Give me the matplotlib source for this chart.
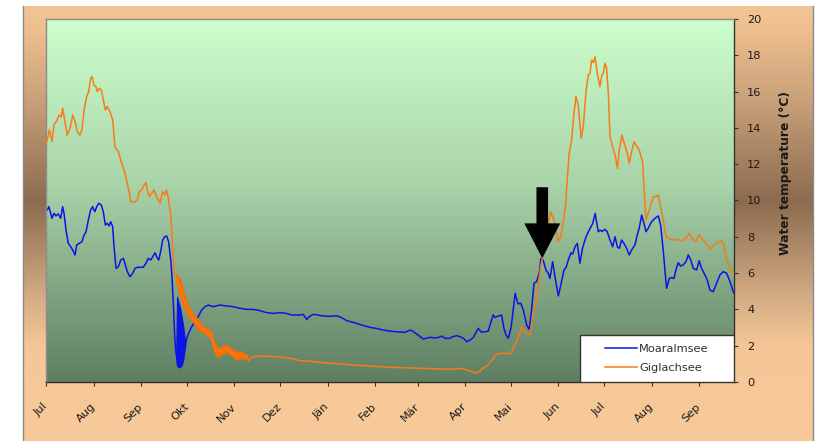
import numpy as np
import matplotlib
matplotlib.use("Agg")
import matplotlib.pyplot as plt
from matplotlib.colors import to_rgb
from matplotlib.patches import FancyArrow, Rectangle

# ---------------------------------------------------------------------------
# Data: daily water temperature (°C), day 0 = 1 July
# ---------------------------------------------------------------------------
month_labels = ["Jul", "Aug", "Sep", "Okt", "Nov", "Dez", "Jän", "Feb", "Mär",
                "Apr", "Mai", "Jun", "Jul", "Aug", "Sep"]
month_start_day = [0, 31, 62, 92, 123, 153, 184, 215, 243, 274, 304, 335, 365, 396, 427]
last_day = 449.8

moar_day = [0.0, 0.65, 1.6, 2.9, 3.7, 5.0, 6.3, 7.8, 9.4, 10.7, 11.6, 12.9, 14.4, 16.0,
            17.3, 18.8, 19.9, 21.6, 23.3, 24.7, 26.0, 27.5, 29.0, 30.3, 31.7, 33.0, 34.3,
            36.0, 37.3, 38.6, 39.9, 41.0, 42.1, 43.4, 44.3, 45.6, 47.1, 48.7, 50.4, 51.7,
            53.0, 54.7, 56.5, 58.0, 59.5, 61.3, 63.4, 65.2, 66.7, 68.3, 69.6, 71.1, 72.2,
            73.5, 74.8, 76.1, 77.4, 78.7, 80.0, 81.4, 82.2, 83.1, 84.0, 84.8, 85.3, 86.6,
            88.0, 89.5, 90.7, 91.4, 92.2, 93.5, 95.1, 97.3, 99.4, 101.6, 103.8, 106.0,
            109.0, 113.6, 118.0, 122.3, 126.7, 131.0, 135.4, 139.8, 144.1, 148.5, 152.8,
            157.2, 160.5, 165.9, 168.0, 170.3, 172.0, 174.7, 178.0, 181.0, 185.0, 190.0,
            193.0, 196.5, 200.0, 203.0, 207.0, 211.7, 216.0, 220.4, 225.0, 229.0, 232.0,
            234.6, 237.9, 240.0, 242.2, 244.5, 246.6, 249.0, 251.0, 254.0, 256.5, 258.6,
            261.0, 264.0, 266.0, 268.4, 270.5, 273.0, 275.0, 277.0, 279.3, 282.5, 284.5,
            287.0, 289.0, 290.5, 292.3, 293.5, 295.0, 297.8, 299.3, 300.6, 302.2, 304.0,
            305.4, 306.7, 308.5, 310.3, 312.0, 314.2, 315.9, 317.5, 319.0, 320.7, 322.4,
            323.5, 325.0, 326.8, 328.3, 329.4, 331.2, 332.7, 334.9, 337.0, 338.6, 340.0,
            341.4, 343.2, 344.3, 345.8, 347.3, 349.0, 350.7, 353.0, 355.1, 357.4, 359.0,
            361.0, 362.1, 363.5, 365.4, 366.9, 368.7, 370.4, 372.0, 373.5, 374.8, 376.3,
            377.8, 379.6, 381.3, 382.8, 385.0, 386.5, 387.8, 389.4, 390.9, 392.2, 393.7,
            395.9, 398.1, 400.3, 401.8, 403.5, 404.6, 405.7, 407.5, 409.0, 410.5, 411.8,
            413.3, 414.9, 416.6, 418.4, 419.9, 421.5, 423.2, 425.4, 427.0, 428.6, 430.8,
            432.3, 434.0, 436.2, 438.4, 440.6, 442.8, 445.0, 447.2, 449.3, 449.8]
moar_temp = [9.45, 9.48, 9.66, 9.29, 9.02, 9.29, 9.15, 9.26, 9.02, 9.66, 9.29, 8.37, 7.64,
             7.45, 7.27, 7.0, 7.55, 7.64, 7.73, 8.1, 8.28, 8.93, 9.48, 9.66, 9.38, 9.66,
             9.85, 9.75, 9.38, 8.65, 8.74, 8.6, 8.83, 8.56, 7.45, 6.26, 6.35, 6.72, 6.81,
             6.45, 6.08, 5.8, 5.99, 6.26, 6.32, 6.32, 6.32, 6.54, 6.81, 6.72, 6.9, 7.12,
             6.9, 6.72, 7.18, 7.82, 8.0, 8.04, 7.73, 6.72, 5.8, 4.3, 2.5, 1.6, 1.39, 0.94,
             1.0, 1.6, 2.0, 2.22, 2.5, 2.77, 3.05, 3.32, 3.6, 3.97, 4.15, 4.24, 4.15, 4.24,
             4.19, 4.15, 4.06, 4.0, 4.0, 3.93, 3.82, 3.78, 3.82, 3.78, 3.69, 3.69, 3.73,
             3.45, 3.6, 3.73, 3.68, 3.64, 3.62, 3.65, 3.55, 3.38, 3.3, 3.23, 3.12, 3.01,
             2.95, 2.86, 2.8, 2.77, 2.75, 2.74, 2.86, 2.78, 2.64, 2.5, 2.37, 2.42, 2.46,
             2.43, 2.45, 2.53, 2.4, 2.41, 2.5, 2.55, 2.5, 2.4, 2.22, 2.3, 2.45, 2.96, 2.75,
             2.77, 2.8, 3.2, 3.7, 3.55, 3.62, 3.69, 2.95, 2.6, 2.41, 3.0, 3.97, 4.89, 4.3,
             4.34, 3.97, 3.14, 2.9, 4.06, 5.44, 5.53, 5.99, 6.81, 6.72, 6.17, 5.99, 5.71,
             6.63, 5.8, 4.74, 5.53, 6.17, 6.32, 6.72, 7.12, 7.05, 7.45, 7.64, 6.54, 7.36,
             8.0, 8.37, 8.74, 9.29, 8.28, 8.37, 8.3, 8.41, 8.28, 7.82, 7.45, 8.0, 7.45,
             7.36, 7.82, 7.64, 7.36, 7.0, 7.27, 7.55, 8.1, 8.47, 9.2, 8.74, 8.28, 8.47,
             8.83, 9.02, 9.15, 8.65, 7.27, 6.17, 5.16, 5.71, 5.75, 5.7, 6.17, 6.57, 6.39,
             6.45, 6.63, 7.0, 6.72, 6.26, 6.17, 6.68, 6.26, 5.9, 5.62, 5.07, 4.97, 5.44,
             5.9, 6.08, 5.99, 5.53, 4.97, 4.9]

# sub-daily range (min / max) while the lake was turning over in early October
moar_band_day = [85.0, 85.5, 86.5, 87.5, 88.5, 89.5, 90.5, 91.0]
moar_band_lo = [1.2, 0.9, 0.8, 0.84, 0.9, 1.2, 1.8, 2.1]
moar_band_hi = [1.6, 4.7, 4.4, 4.1, 3.6, 3.1, 2.4, 2.3]

gig_day = [0.0, 0.65, 2.0, 3.7, 5.0, 6.8, 8.5, 9.8, 10.7, 12.2, 13.7, 15.5, 17.3, 18.8,
           20.3, 22.0, 23.3, 24.7, 26.4, 27.7, 29.0, 29.9, 31.2, 32.5, 33.4, 34.7, 36.0,
           37.3, 38.6, 39.9, 41.7, 43.4, 44.9, 47.1, 49.3, 51.5, 53.0, 54.3, 55.2, 58.0,
           59.5, 60.8, 62.4, 63.9, 65.2, 66.0, 67.4, 68.9, 70.4, 72.2, 74.4, 76.1, 77.6,
           78.7, 79.8, 81.4, 82.2, 83.1, 84.0, 84.8, 85.7, 87.8, 89.9, 92.1, 94.3, 96.5,
           98.6, 100.8, 103.0, 105.2, 107.4, 109.5, 111.7, 113.9, 116.1, 118.2, 120.4,
           122.6, 124.8, 127.0, 129.1, 131.3, 132.6, 134.6, 140.0, 151.0, 159.7, 166.3,
           170.0, 181.0, 203.0, 225.0, 246.6, 264.0, 270.5, 273.0, 277.0, 281.0, 283.5,
           285.5, 289.0, 290.5, 292.4, 293.5, 295.0, 298.0, 301.0, 303.3, 304.5, 306.5,
           308.7, 311.0, 313.0, 316.3, 318.5, 320.0, 321.8, 323.3, 325.0, 326.8, 328.3,
           329.9, 331.2, 332.7, 334.9, 336.5, 338.0, 339.6, 340.7, 342.0, 343.6, 344.7,
           346.4, 347.9, 349.9, 351.2, 353.0, 354.5, 355.6, 356.7, 357.8, 358.9, 360.4,
           362.1, 363.4, 364.3, 365.4, 366.5, 367.6, 368.7, 370.4, 372.0, 373.5, 374.8,
           376.5, 378.3, 380.0, 381.3, 382.6, 384.4, 386.1, 387.8, 390.0, 391.1, 392.2,
           393.7, 395.3, 397.0, 399.2, 400.3, 401.8, 403.5, 405.3, 406.8, 410.0, 413.0,
           415.5, 418.4, 420.5, 422.6, 424.9, 427.0, 429.6, 432.3, 434.5, 437.3, 439.5,
           441.7, 443.2, 445.0, 447.2, 449.3, 449.8]
gig_temp = [13.2, 13.33, 13.9, 13.24, 14.16, 14.4, 14.7, 14.6, 15.08, 14.34, 13.6, 13.98,
            14.7, 14.34, 13.79, 13.6, 13.88, 14.99, 15.72, 16.0, 16.73, 16.82, 16.36,
            16.27, 16.0, 16.18, 16.09, 15.54, 14.99, 15.17, 14.89, 14.44, 12.96, 12.69,
            12.05, 11.5, 10.95, 10.4, 9.93, 9.93, 10.03, 10.49, 10.58, 10.85, 10.98, 10.58,
            10.21, 10.4, 10.58, 10.21, 9.85, 10.49, 10.3, 10.58, 10.12, 9.2, 8.19, 6.72,
            5.9, 5.8, 5.57, 5.16, 4.52, 4.06, 3.74, 3.46, 3.28, 3.0, 2.91, 2.73, 2.68,
            2.04, 1.67, 1.68, 1.81, 1.86, 1.68, 1.58, 1.44, 1.49, 1.44, 1.4, 1.17, 1.39,
            1.43, 1.39, 1.3, 1.17, 1.16, 1.07, 0.92, 0.81, 0.75, 0.7, 0.75, 0.72, 0.62,
            0.48, 0.6, 0.75, 0.95, 1.12, 1.25, 1.49, 1.54, 1.58, 1.58, 1.55, 1.67, 2.04,
            2.45, 3.05, 2.77, 2.59, 3.78, 4.34, 5.25, 6.35, 7.0, 7.82, 8.74, 9.38, 9.11,
            8.74, 7.73, 8.0, 8.74, 9.7, 11.13, 12.6, 13.33, 14.44, 15.72, 15.26, 13.43,
            14.07, 16.0, 16.91, 17.0, 17.74, 17.6, 17.92, 17.0, 16.27, 16.91, 17.0, 17.56,
            17.28, 15.9, 13.52, 12.96, 12.51, 11.77, 12.78, 13.6, 13.06, 12.6, 12.05, 12.6,
            13.24, 13.0, 12.78, 12.14, 10.58, 8.93, 9.29, 9.75, 10.21, 10.21, 10.3, 9.66,
            8.93, 8.0, 7.92, 7.82, 7.86, 7.77, 7.92, 8.19, 7.86, 7.73, 8.1, 7.82, 7.55,
            7.31, 7.6, 7.73, 7.77, 7.55, 6.72, 6.26, 5.99, 5.95]

# sub-daily range (min / max) during autumn cooling
gig_band_day = [84.8, 85.7, 87.8, 89.9, 92.1, 94.3, 96.5, 98.6, 100.8, 103.0, 105.2, 107.4,
                109.5, 111.7, 113.9, 116.1, 118.2, 120.4, 122.6, 124.8, 127.0, 129.1, 131.3]
gig_band_lo = [5.7, 5.25, 4.7, 4.15, 3.78, 3.51, 3.23, 3.05, 2.77, 2.77, 2.5, 2.5, 1.76,
               1.39, 1.49, 1.58, 1.67, 1.49, 1.39, 1.21, 1.3, 1.3, 1.3]
gig_band_hi = [5.9, 5.89, 5.62, 4.89, 4.34, 3.97, 3.69, 3.51, 3.23, 3.05, 2.96, 2.86, 2.31,
               1.94, 1.86, 2.04, 2.04, 1.86, 1.76, 1.67, 1.67, 1.58, 1.5]

# date marked by the arrow (ice break-up) and the temperature there
marked_day = 324.4
marked_temp = 6.82

# ---------------------------------------------------------------------------
# Styling
# ---------------------------------------------------------------------------
BLUE = "#0A14E6"
ORANGE = "#F77B16"
ORANGE_BAND = "#FA6E05"
W, H = 823, 441

plt.rcParams["font.family"] = ["DejaVu Sans"]


def px_box(x0, y0, x1, y1):
    return [x0 / W, 1 - y1 / H, (x1 - x0) / W, (y1 - y0) / H]


def vgrad(stops, n=512):
    pos = [s[0] for s in stops]
    cols = np.array([to_rgb(s[1]) for s in stops])
    t = np.linspace(0, 1, n)
    img = np.stack([np.interp(t, pos, cols[:, k]) for k in range(3)], axis=-1)
    return img[:, None, :]


fig = plt.figure(figsize=(W / 100, H / 100), dpi=100)
fig.patch.set_facecolor("white")

# outer chart panel with a vertical peach-brown-peach gradient
bg = fig.add_axes(px_box(23, 6, 813, 441), zorder=0)
bg.imshow(vgrad([(0.0, "#F3C494"), (0.06, "#EDBE8E"), (0.22, "#C89F78"),
                 (0.45, "#8C6B4F"), (0.68, "#D7AF87"), (0.78, "#F5C696"),
                 (1.0, "#F8CA9A")]),
          extent=[0, 1, 0, 1], aspect="auto", interpolation="bilinear")
bg.set_xlim(0, 1)
bg.set_ylim(0, 1)
for side in ["top", "bottom"]:
    bg.spines[side].set_visible(False)
for side in ["left", "right"]:
    bg.spines[side].set_color("#8a8a8a")
    bg.spines[side].set_linewidth(1.0)
bg.set_xticks([])
bg.set_yticks([])

# plotting area
ax = fig.add_axes(px_box(46.3, 19, 734, 382), zorder=1)
ax.patch.set_visible(False)
ax.imshow(vgrad([(0.0, "#CCFFCC"), (0.45, "#AAD4AA"), (1.0, "#5E7E62")]),
          extent=[0, 1, 0, 1], transform=ax.transAxes, aspect="auto",
          interpolation="bilinear", zorder=0)

ax.fill_between(moar_band_day, moar_band_lo, moar_band_hi, color=BLUE, lw=0.8, zorder=2)
ax.plot(moar_day, moar_temp, color=BLUE, lw=1.1, zorder=2, label="Moaralmsee")
ax.fill_between(gig_band_day, gig_band_lo, gig_band_hi, color=ORANGE_BAND, lw=0.8, zorder=3)
ax.plot(gig_day, gig_temp, color=ORANGE, lw=1.1, zorder=3, label="Giglachsee")

# downward arrow marking the date
arrow_top = 10.73
ax.add_patch(FancyArrow(marked_day, arrow_top, 0, marked_temp - arrow_top,
                        width=7.6, head_width=23.5, head_length=1.92,
                        length_includes_head=True, color="black", lw=0, zorder=6))

ax.set_xlim(0, last_day)
ax.set_ylim(0, 20)

ax.yaxis.tick_right()
ax.set_yticks(range(0, 21, 2))
ax.set_xticks(month_start_day)
ax.set_xticklabels(month_labels, rotation=45, ha="right", va="center",
                   rotation_mode="anchor")
ax.tick_params(axis="x", direction="out", length=3, width=0.8, color="#333333",
               pad=13.5, labelsize=8.2, labelcolor="#1a1a1a")
ax.tick_params(axis="y", direction="out", length=3, width=0.8, color="#333333",
               pad=6.5, labelsize=8.2, labelcolor="#1a1a1a", right=True, left=False)

for side in ["top", "left"]:
    ax.spines[side].set_color("#8c8c8c")
    ax.spines[side].set_linewidth(1.0)
for side in ["bottom", "right"]:
    ax.spines[side].set_color("#333333")
    ax.spines[side].set_linewidth(1.0)

# legend box in the lower-right corner
legend_x0 = (580 - 46.3) / (734 - 46.3)
legend_h = (382 - 335) / (382 - 19)
ax.add_patch(Rectangle((legend_x0, 0), 1 - legend_x0, legend_h, transform=ax.transAxes,
                       facecolor="white", edgecolor="#333333", lw=1.0, zorder=7))
leg = ax.legend(loc="center", bbox_to_anchor=((legend_x0 + 1) / 2, legend_h / 2),
                frameon=False, prop=dict(size=8.2), handlelength=2.8,
                handletextpad=0.2, labelspacing=0.85, borderpad=0)
leg.set_zorder(8)
for txt in leg.get_texts():
    txt.set_color("#303030")

fig.text(785 / W, 1 - 173 / H, "Water temperature (°C)", rotation=90, ha="center",
         va="center", fontsize=8.8, fontweight="bold", color="#1a1a1a")

fig.savefig("out.png", dpi=100)
